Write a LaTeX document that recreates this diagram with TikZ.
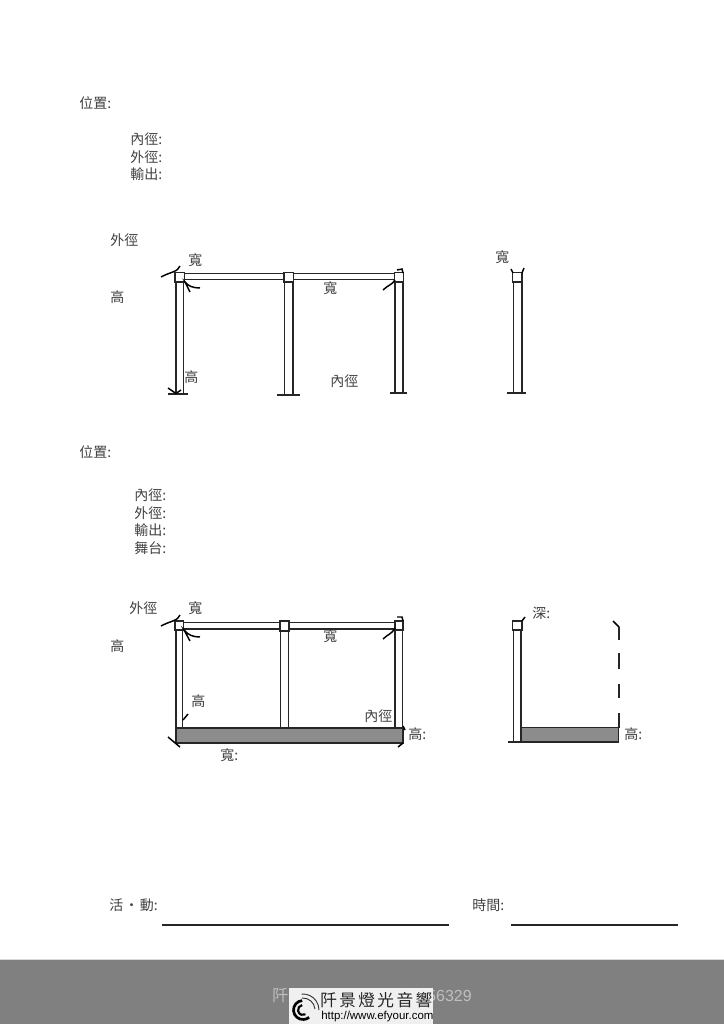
\documentclass[tikz,border=0pt]{standalone}
\usepackage{fontspec}
\usepackage{xcolor}
\setmainfont{Noto Sans CJK TC}
\newfontfamily\urlfont{Liberation Sans}
\definecolor{labelgray}{gray}{.25}
\definecolor{slabgray}{gray}{.55}
\definecolor{bandgray}{gray}{.5}
\tikzset{
  lab/.style={inner sep=0pt,text=labelgray,font=\fontsize{10.5}{12}\selectfont},
  pipe/.style={line width=.8pt,black!85},
  tick/.style={line width=1.1pt,black},
}

\begin{document}
\begin{tikzpicture}[x=.75pt,y=-.75pt]
  \useasboundingbox (0,0) rectangle (724,1024);

  \draw (79,103)
    node (pa) [right,lab] {位置:} ++(51,36)
    node (ida) [right,lab] {內徑:} ++(0,18)
    node (oda) [right,lab] {外徑:} ++(0,17)
    node (oua) [right,lab] {輸出:}
    ;
  \draw (110,240)
    node (ola) [right,lab] {外徑} ++(0,57)
    node (hla) [right,lab] {高} ++(78,-37)
    node (wa) [right,lab] {寬} ++(135,28)
    node (wb) [right,lab] {寬} ++(-139,89)
    node (ha) [right,lab] {高} ++(146,4)
    node (ila) [right,lab] {內徑} ++(165,-124)
    node (wc) [right,lab] {寬}
    ;

  % first frame
  \draw[pipe] (185,273.5) -- (284,273.5) (293,273.5) -- (395,273.5);
  \draw[pipe] (185,279.5) -- (284,279.5) (293,279.5) -- (395,279.5);
  \draw[pipe] (176,282) -- (176,393) (183.5,282) -- (183.5,393)
    (284.5,282) -- (284.5,395) (293,282) -- (293,395)
    (395,282) -- (395,393) (403,282) -- (403,393)
    (513.5,282) -- (513.5,393) (522,282) -- (522,393);
  \draw[pipe] (175,272.5) rectangle ++(9.5,9.5)
    (284,272.5) rectangle ++(9.5,9.5)
    (394.5,272.5) rectangle ++(9,9.5)
    (512.5,272.5) rectangle ++(9.5,9.5);
  \draw[pipe] (168,394) -- ++(20,0) (277,395) -- ++(23,0)
    (390,393) -- ++(17,0) (507,393) -- ++(19,0);
  \draw[tick] (161,277) .. controls (170,272) and (178,272) .. (180,266);
  \draw[tick] (200,288) .. controls (193,288) and (188,286) .. (185,282) -- (190,292);
  \draw[tick] (383,290) .. controls (388,285) and (392,285) .. (395,280);
  \draw[tick] (397,270) -- (402,269) -- (403,273);
  \draw[tick] (168,388) -- (176,393.5) -- (181,390);
  \draw[tick] (511,269) -- (513,273) (524,268) -- (522,273);

  \draw (79,452)
    node (pb) [right,lab] {位置:} ++(55,43)
    node (idb) [right,lab] {內徑:} ++(0,18)
    node (odb) [right,lab] {外徑:} ++(0,17)
    node (oub) [right,lab] {輸出:} ++(0,18)
    node (stb) [right,lab] {舞台:}
    ;
  \draw (129,608)
    node (olb) [right,lab] {外徑} ++(59,0)
    node (wd) [right,lab] {寬} ++(-78,38)
    node (hlb) [right,lab] {高} ++(213,-10)
    node (we) [right,lab] {寬} ++(-132,65)
    node (hb) [right,lab] {高} ++(173,15)
    node (ilb) [right,lab] {內徑} ++(44,18)
    node (hc) [right,lab] {高:} ++(-188,21)
    node (wf) [right,lab] {寬:} ++(312,-142)
    node (dp) [right,lab] {深:} ++(92,121)
    node (hd) [right,lab] {高:}
    ;

  % second frame
  \draw[pipe,fill=slabgray] (176,728) rectangle (403,743);
  \draw[pipe,fill=slabgray] (521,727.5) rectangle (618.5,742);
  \draw[pipe] (183,622.5) -- (280,622.5) (289,622.5) -- (395,622.5);
  \draw[pipe] (183,629) -- (280,629) (289,629) -- (395,629);
  \draw[pipe] (176,630) -- (176,728) (182.5,630) -- (182.5,728)
    (280.5,631) -- (280.5,728) (288.5,631) -- (288.5,728)
    (395,630) -- (395,728) (402.5,630) -- (402.5,728)
    (513.5,630) -- (513.5,742) (521,630) -- (521,742);
  \draw[pipe] (175,621) rectangle ++(8.5,9)
    (280,621) rectangle ++(9,10)
    (395,621) rectangle ++(8,9)
    (512.5,621) rectangle ++(9.5,9);
  \draw[pipe] (508,742) -- (522,742);
  \draw[tick] (161,626) .. controls (170,621) and (178,621) .. (180,615);
  \draw[tick] (200,637) .. controls (193,637) and (188,635) .. (184,630) -- (190,641);
  \draw[tick] (383,639) .. controls (388,634) and (392,634) .. (395,628);
  \draw[tick] (397,617) -- (402,617) -- (403,621);
  \draw[tick] (183,720) -- (188,714);
  \draw[tick] (168,737) -- (180,747);
  \draw[tick] (403,726) -- (405,730) (398,747) -- (403,743);
  \draw[tick] (522,621) -- (525,617);
  \draw[tick] (613,621) -- (619,627);
  \draw[pipe] (619,627) -- (619,640) (619,653) -- (619,669)
    (619,684) -- (619,698) (619,713) -- (619,727.5);

  % signature lines
  \draw (109,905)
    node (ac) [right,lab] {活\hspace{1pt}•\hspace{1pt}動:} ++(363,0)
    node (ti) [right,lab] {時間:}
    ;
  \draw[pipe] (162,925) -- (449,925) (511,925) -- (678,925);

  % footer
  \fill[bandgray] (0,959) rectangle (724,1024);
  \draw[black!15] (0,959) -- (724,959);
  \node (fa) [right,inner sep=0pt,text=black!25,font=\fontsize{12}{14}\selectfont] at (272,996) {阡};
  \node (fb) [left,inner sep=0pt,text=black!25,font=\urlfont\fontsize{12}{14}\selectfont] at (472,996) {56329};
  \fill[black!6] (289,988) rectangle (433,1024);
  \coordinate (lg) at (303,1010);
  \draw[line width=2pt,black] (lg) ++(265:9.5) arc (265:50:9.5);
  \draw[line width=1.6pt,black] (lg) ++(260:5) arc (260:60:5);
  \draw[line width=.7pt,black!80] (lg) ++(265:12) arc (265:355:12);
  \draw[line width=.7pt,black!80] (lg) ++(265:16) arc (265:360:16);
  \node (fc) [right,inner sep=0pt,text=black!85,font=\fontsize{12.5}{16}\selectfont] at (320,1000)
    {阡\hspace{1.8pt}景\hspace{1.8pt}燈\hspace{1.8pt}光\hspace{1.8pt}音\hspace{1.8pt}響};
  \node (fd) [right,inner sep=0pt,text=black,font=\urlfont\fontsize{8.6}{10}\selectfont] at (321,1017) {http://www.efyour.com};
\end{tikzpicture}
\end{document}
